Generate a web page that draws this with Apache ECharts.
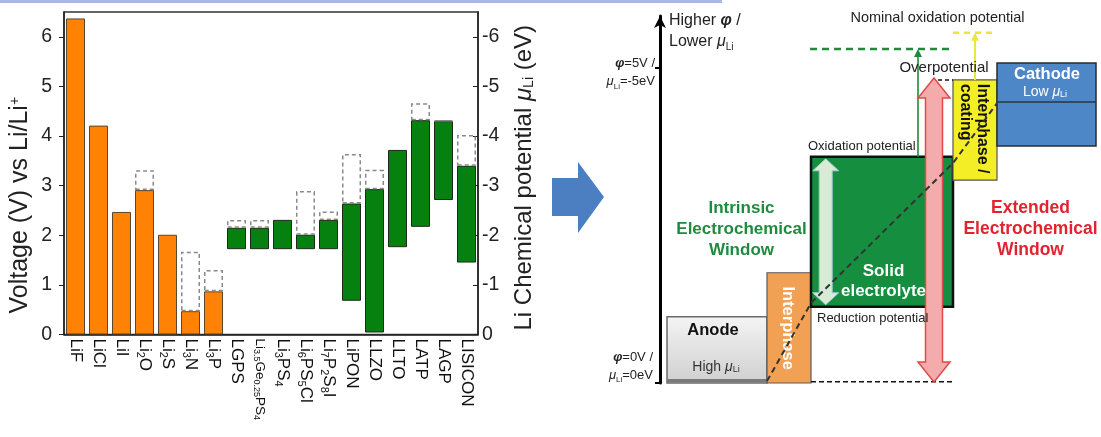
<!DOCTYPE html>
<html>
<head>
<meta charset="utf-8">
<title>Electrochemical stability windows</title>
<script src="https://cdn.jsdelivr.net/npm/echarts@6.0.0/dist/echarts.min.js"></script>
<style>
  html, body { margin: 0; padding: 0; background: #ffffff; }
  #chart { width: 1101px; height: 437px; }
</style>
</head>
<body>
<div id="chart"></div>
<script>
// ---- Stability windows of Li binaries and solid electrolytes (V vs Li/Li+) ----
const compounds = ['LiF', 'LiCl', 'LiI', 'Li2O', 'Li2S', 'Li3N', 'Li3P',
  'LGPS', 'Li3.5Ge0.25PS4', 'Li3PS4', 'Li6PS5Cl', 'Li7P2S8I',
  'LiPON', 'LLZO', 'LLTO', 'LATP', 'LAGP', 'LISICON'];
const reductionV  = [0, 0, 0, 0, 0, 0, 0, 1.72, 1.72, 1.72, 1.72, 1.72, 0.68, 0.04, 1.76, 2.17, 2.71, 1.45];
const oxidationV  = [6.37, 4.21, 2.47, 2.91, 2.01, 0.47, 0.87, 2.15, 2.15, 2.31, 2.01, 2.31, 2.64, 2.93, 3.72, 4.32, 4.30, 3.40];
const extendedOxV = [null, null, null, 3.31, null, 1.67, 1.30, 2.31, 2.31, null, 2.89, 2.48, 3.64, 3.32, null, 4.66, 4.32, 4.02];
const binaryCount = 7;
const voltageTicks = [0, 1, 2, 3, 4, 5, 6];

// ---- Interface schematic: potential levels (V vs Li/Li+) ----
const schematicParts = ['Anode', 'Interphase', 'Solid electrolyte', 'Interphase / coating', 'Cathode'];
const partLowV  = [0, 0, 1.21, 3.22, 3.76];
const partHighV = [1.05, 1.75, 3.59, 4.81, 5.08];
const cathodeLevelV = 4.46;
const electrolyteNominalOxV = 5.30;
const coatingNominalOxV = 5.56;
const profileV = [0.03, 1.27, 3.49, 4.44];
const schematicMarksV = [0, 5];

// ---- layout of the schematic (horizontal scale, 1 unit = 1 px) ----
const partEdges = [7, 107, 151, 293, 337, 436];

const FONT = '"Liberation Sans", Arial, Helvetica, sans-serif';

function formulaLabel(name) {
  const small = name.length > 10;
  const big = small ? 'm' : 'n';
  const sub = small ? 't' : 's';
  return name.split(/(\d+(?:\.\d+)?)/).filter(Boolean)
    .map(p => /^\d/.test(p) ? '{' + sub + '|' + p + '}' : '{' + big + '|' + p + '}').join('');
}

function textRich(size, weight) {
  return {
    f:   { fontSize: size, fontFamily: FONT, fontStyle: 'italic', fontWeight: 'bold' },
    m:   { fontSize: size, fontFamily: FONT, fontStyle: 'italic', fontWeight: weight || 'normal' },
    sub: { fontSize: Math.round(size * 0.62), fontFamily: FONT, fontWeight: weight || 'normal',
           verticalAlign: 'bottom', lineHeight: Math.round(size * 0.95) }
  };
}

const solidData = compounds.map((c, i) => ({
  value: +(oxidationV[i] - reductionV[i]).toFixed(3),
  itemStyle: i < binaryCount
    ? { color: '#ff8205', borderColor: '#5b4630', borderWidth: 1 }
    : { color: '#06800f', borderColor: '#1c2a1c', borderWidth: 1 }
}));
const dashedData = compounds.map((c, i) =>
  extendedOxV[i] == null ? '-' : +(extendedOxV[i] - oxidationV[i]).toFixed(3));

// block arrow outline (vertical), single- or double-headed
function blockArrow(cx, yTop, yBot, shaftW, headW, headL, both) {
  const s = shaftW / 2, h = headW / 2;
  const pts = [[cx, yTop], [cx + h, yTop + headL], [cx + s, yTop + headL]];
  if (both) {
    pts.push([cx + s, yBot - headL], [cx + h, yBot - headL], [cx, yBot],
             [cx - h, yBot - headL], [cx - s, yBot - headL]);
  } else {
    pts.push([cx + s, yBot], [cx - s, yBot]);
  }
  pts.push([cx - s, yTop + headL], [cx - h, yTop + headL]);
  return pts;
}

function renderPart(params, api) {
  const i = api.value(0);
  const lo = api.value(1), hi = api.value(2);
  const p0 = api.coord([partEdges[i], hi]);
  const p1 = api.coord([partEdges[i + 1], lo]);
  const rect = { x: p0[0], y: p0[1], width: p1[0] - p0[0], height: p1[1] - p0[1] };
  const styles = [
    { fill: new echarts.graphic.LinearGradient(0, 0, 0, 1, [
        { offset: 0, color: '#f4f4f4' }, { offset: 1, color: '#cfcfcf' }]), stroke: '#6a6a6a', lineWidth: 1.5 },
    { fill: '#f2a154', stroke: '#5a5a5a', lineWidth: 1.2 },
    { fill: '#168e3f', stroke: '#111111', lineWidth: 2.5 },
    { fill: '#f4ee26', stroke: '#555555', lineWidth: 1.2 },
    { fill: '#4d87c7', stroke: '#2b2b2b', lineWidth: 1.5 }
  ];
  const kids = [{ type: 'rect', shape: rect, style: styles[i] }];
  if (i === 0) {
    kids.push({ type: 'rect', shape: { x: rect.x, y: p1[1] - 4, width: rect.width, height: 3 },
                style: { fill: '#7a7a7a' } });
  }
  if (i === 4) {
    const q0 = api.coord([partEdges[4], cathodeLevelV]);
    const q1 = api.coord([partEdges[5], cathodeLevelV]);
    kids.push({ type: 'line', shape: { x1: q0[0], y1: q0[1], x2: q1[0], y2: q1[1] },
                style: { stroke: '#263646', lineWidth: 1.6 } });
  }
  return { type: 'group', children: kids };
}

function renderNotes(params, api) {
  const c = (x, v) => api.coord([x, v]);
  const kids = [];
  const line = (xa, xb, v, stroke, width, dash) => {
    const a = c(xa, v), b = c(xb, v);
    kids.push({ type: 'line', shape: { x1: a[0], y1: a[1], x2: b[0], y2: b[1] },
                style: { stroke, lineWidth: width, lineDash: dash || null } });
  };
  const thinArrow = (x, vFrom, vTo, color, width) => {
    const a = c(x, vFrom), b = c(x, vTo);
    kids.push({ type: 'line', shape: { x1: a[0], y1: a[1], x2: b[0], y2: b[1] + 6 },
                style: { stroke: color, lineWidth: width } });
    kids.push({ type: 'polygon', shape: { points: [[b[0], b[1]], [b[0] + 4, b[1] + 8], [b[0] - 4, b[1] + 8]] },
                style: { fill: color } });
  };
  const text = (x, v, str, st, extra) => {
    const p = c(x, v);
    kids.push(Object.assign({ type: 'text', x: p[0], y: p[1],
      style: Object.assign({ text: str, fontFamily: FONT, fontSize: 13, fill: '#222',
                             align: 'center', verticalAlign: 'middle' }, st) }, extra || {}));
  };

  // 0 V reference under the electrolyte
  line(partEdges[2], partEdges[3], 0.02, '#111', 1.6, [5, 3]);
  // nominal oxidation levels
  line(150, 290, electrolyteNominalOxV, '#1f8a3c', 2.5, [7, 5]);
  line(partEdges[3], partEdges[4], coatingNominalOxV, '#eee43a', 2.5, [6, 5]);
  // overpotential marker
  line(278, partEdges[3], partHighV[3], '#111', 1.6, [4, 3]);
  thinArrow(258, partHighV[2], electrolyteNominalOxV, '#1f8a3c', 1.6);
  thinArrow(315, partHighV[3], coatingNominalOxV, '#ece640', 2);

  // intrinsic window arrow
  const gTop = c(165.7, partHighV[2]), gBot = c(165.7, partLowV[2]);
  kids.push({ type: 'polygon',
    shape: { points: blockArrow(gTop[0], gTop[1] + 2, gBot[1] - 2, 13, 26, 12, true) },
    style: { fill: '#d7ebd5', stroke: '#a4c8da', lineWidth: 1 } });
  // extended window arrow
  const pTop = c(274, partHighV[3]), pBot = c(274, 0);
  kids.push({ type: 'polygon',
    shape: { points: blockArrow(pTop[0], pTop[1] - 2, pBot[1] - 1, 17, 32, 20, true) },
    style: { fill: '#f3abab', stroke: '#e04a4a', lineWidth: 1.5 } });

  // axis captions
  text(9, 5.58, 'Higher {f|φ} /\nLower {m|μ}{sub|Li}',
       { fontSize: 16, align: 'left', lineHeight: 21, rich: textRich(16) });
  text(-5, 4.93, '{f|φ}=5V /\n{m|μ}{sub|Li}=-5eV',
       { fontSize: 13, align: 'right', lineHeight: 18, rich: textRich(13) });
  text(-7, 0.27, '{f|φ}=0V /\n{m|μ}{sub|Li}=0eV',
       { fontSize: 13, align: 'right', lineHeight: 18, rich: textRich(13) });

  text(277.5, 5.79, 'Nominal oxidation potential', { fontSize: 14.5 });
  text(284, 5.0, 'Overpotential', { fontSize: 15 });
  text(148, 3.75, 'Oxidation potential', { fontSize: 13, align: 'left' });
  text(157, 1.03, 'Reduction potential', { fontSize: 13, align: 'left' });

  text(81.5, 2.44, 'Intrinsic\nElectrochemical\nWindow',
       { fontSize: 17, fontWeight: 'bold', fill: '#1f8b3e', lineHeight: 21 });
  text(370.5, 2.44, 'Extended\nElectrochemical\nWindow',
       { fontSize: 17.5, fontWeight: 'bold', fill: '#e2232f', lineHeight: 21 });

  text(223.5, 1.62, 'Solid\nelectrolyte',
       { fontSize: 17, fontWeight: 'bold', fill: '#ffffff', lineHeight: 20 });
  text(53, 0.83, 'Anode', { fontSize: 16.5, fontWeight: 'bold', fill: '#111' });
  text(56, 0.25, 'High {m|μ}{sub|Li}', { fontSize: 14, fill: '#333', rich: textRich(14) });
  text(128, 0.87, 'Interphase', { fontSize: 16.5, fontWeight: 'bold', fill: '#ffffff' },
       { rotation: -Math.PI / 2 });
  text(313.5, 4.75, 'Interphase /\ncoating',
       { fontSize: 16, fontWeight: 'bold', fill: '#111', align: 'left', lineHeight: 17 },
       { rotation: -Math.PI / 2 });
  text(387, 4.89, 'Cathode', { fontSize: 16.5, fontWeight: 'bold', fill: '#ffffff' });
  text(385, 4.62, 'Low {m|μ}{sub|Li}', { fontSize: 14, fill: '#ffffff', rich: textRich(14) });

  return { type: 'group', children: kids };
}

const chart = echarts.init(document.getElementById('chart'), null, { renderer: 'canvas' });

chart.setOption({
  animation: false,
  backgroundColor: '#ffffff',
  textStyle: { fontFamily: FONT },
  graphic: [
    { type: 'rect', shape: { x: 0, y: 0, width: 722, height: 3 }, style: { fill: '#a9b8e2' } },
    { type: 'polygon',
      shape: { points: [[552, 178], [578, 178], [578, 162], [604, 197], [578, 233], [578, 216], [552, 216]] },
      style: { fill: '#4b7fc1' } }
  ],
  grid: [
    { left: 64, top: 12, width: 414, height: 322.5, show: true,
      borderColor: '#333', borderWidth: 1.5, backgroundColor: 'transparent' },
    { left: 660, top: 16, width: 440, height: 367 }
  ],
  xAxis: [
    { type: 'category', gridIndex: 0, data: compounds,
      axisLine: { lineStyle: { color: '#222', width: 1.5 } },
      axisTick: { show: false },
      axisLabel: {
        interval: 0, rotate: -90, margin: 4, color: '#111',
        formatter: formulaLabel,
        rich: {
          n: { fontSize: 17, fontFamily: FONT, color: '#111', lineHeight: 19 },
          s: { fontSize: 11, fontFamily: FONT, color: '#111', lineHeight: 14, verticalAlign: 'bottom' },
          m: { fontSize: 13.5, fontFamily: FONT, color: '#111', lineHeight: 16 },
          t: { fontSize: 9, fontFamily: FONT, color: '#111', lineHeight: 12, verticalAlign: 'bottom' }
        }
      }
    },
    { type: 'value', gridIndex: 1, min: 0, max: 440, show: false }
  ],
  yAxis: [
    { type: 'value', gridIndex: 0, position: 'left', min: 0, max: 6.5, interval: 1,
      name: 'Voltage (V) vs Li/Li{sup|+}', nameLocation: 'middle', nameGap: 31, nameRotate: 90,
      nameTextStyle: { fontSize: 25, color: '#222', padding: [0, 64, 0, 0],
        rich: { sup: { fontSize: 14, color: '#222', verticalAlign: 'top', lineHeight: 14 } } },
      axisLine: { show: true, lineStyle: { color: '#222', width: 1.5 } },
      axisTick: { show: true, length: 5, customValues: voltageTicks, lineStyle: { color: '#222' } },
      axisLabel: { customValues: voltageTicks, fontSize: 19.5, color: '#222', margin: 12 },
      splitLine: { show: false }
    },
    { type: 'value', gridIndex: 0, position: 'right', min: 0, max: 6.5, interval: 1,
      name: 'Li Chemical potential {mu|μ}{li|Li} (eV)', nameLocation: 'middle', nameGap: 34, nameRotate: 90,
      nameTextStyle: { fontSize: 24, color: '#222', padding: [0, 9, 0, 0],
        rich: { mu: { fontSize: 24, fontStyle: 'italic', color: '#222' },
                li: { fontSize: 14, color: '#222', verticalAlign: 'bottom', lineHeight: 21 } } },
      axisLine: { show: true, lineStyle: { color: '#222', width: 1.5 } },
      axisTick: { show: true, inside: true, length: 5, customValues: voltageTicks, lineStyle: { color: '#222' } },
      axisLabel: { customValues: voltageTicks, fontSize: 19.5, color: '#222', margin: 4,
        formatter: v => (v === 0 ? '0' : '-' + v) },
      splitLine: { show: false }
    },
    { type: 'value', gridIndex: 1, min: 0, max: 5.825,
      axisLine: { show: true, onZero: false, lineStyle: { color: '#000', width: 3 },
                  symbol: ['none', 'arrow'], symbolSize: [9, 12] },
      axisTick: { show: true, length: 5, customValues: schematicMarksV, lineStyle: { color: '#000', width: 2 } },
      axisLabel: { show: false },
      splitLine: { show: false }
    }
  ],
  series: [
    { name: 'base', type: 'bar', stack: 'window', xAxisIndex: 0, yAxisIndex: 0,
      data: reductionV, barWidth: 19, silent: true,
      itemStyle: { color: 'rgba(0,0,0,0)' } },
    { name: 'stability window', type: 'bar', stack: 'window', xAxisIndex: 0, yAxisIndex: 0,
      data: solidData, barWidth: 19, silent: true },
    { name: 'extended window', type: 'bar', stack: 'window', xAxisIndex: 0, yAxisIndex: 0,
      data: dashedData, barWidth: 19, silent: true,
      itemStyle: { color: 'rgba(0,0,0,0)', borderColor: '#8a8a8a', borderWidth: 1.5, borderType: [4, 3] } },

    { name: 'interface parts', type: 'custom', xAxisIndex: 1, yAxisIndex: 2, z: 2,
      clip: false, silent: true,
      data: schematicParts.map((n, i) => [i, partLowV[i], partHighV[i]]),
      encode: { x: 0, y: [1, 2] },
      renderItem: renderPart },
    { name: 'interface notes', type: 'custom', xAxisIndex: 1, yAxisIndex: 2, z: 3,
      clip: false, silent: true,
      data: [[0, 0]],
      renderItem: renderNotes },
    { name: 'Li chemical potential', type: 'line', xAxisIndex: 1, yAxisIndex: 2, z: 4,
      silent: true, symbol: 'none',
      data: profileV.map((v, i) => [partEdges[i + 1], v]),
      lineStyle: { color: '#333', width: 2, type: [6, 4] } }
  ]
});
</script>
</body>
</html>
